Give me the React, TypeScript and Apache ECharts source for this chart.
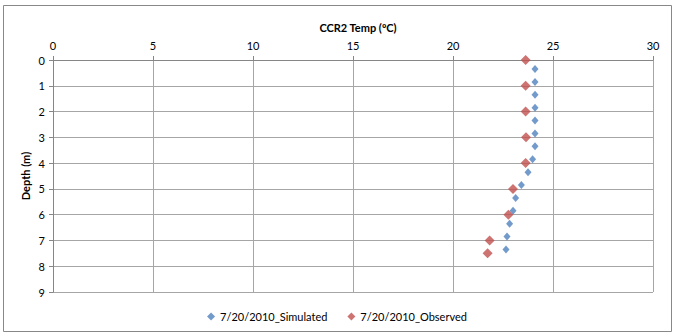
import React, { useEffect, useRef } from "react";
import * as echarts from "echarts";

const simulatedDepth = [0.35, 0.85, 1.35, 1.85, 2.35, 2.85, 3.35, 3.85, 4.35, 4.85, 5.35, 5.85, 6.35, 6.85, 7.35];
const simulatedTemp = [24.1, 24.1, 24.1, 24.1, 24.1, 24.1, 24.1, 23.98, 23.75, 23.42, 23.13, 23.0, 22.83, 22.7, 22.65];
const observedDepth = [0, 1, 2, 3, 4, 5, 6, 7, 7.5];
const observedTemp = [23.63, 23.63, 23.63, 23.65, 23.63, 23.0, 22.77, 21.83, 21.73];

const seriesNames = ["7/20/2010_Simulated", "7/20/2010_Observed"];
const titleText = "CCR2 Temp (ºC)";
const yName = "Depth (m)";

const FONT = "Lato, 'Open Sans', sans-serif";

export default function App() {
  const ref = useRef<HTMLDivElement>(null);
  useEffect(() => {
    if (!ref.current) return;
    const chart = echarts.init(ref.current, undefined, { renderer: "svg" });
    chart.setOption({
      animation: false,
      backgroundColor: "#ffffff",
      textStyle: { fontFamily: FONT },
      title: {
        text: titleText,
        left: 353,
        top: 17,
        textAlign: "center",
        textStyle: { fontSize: 11, fontWeight: "bold", color: "#000", fontFamily: FONT },
      },
      graphic: [
        {
          type: "rect",
          shape: { x: 3.5, y: 5.5, width: 668, height: 326 },
          style: { fill: "none", stroke: "#888888", lineWidth: 1 },
          silent: true,
        },
      ],
      legend: {
        bottom: 6,
        left: "center",
        itemGap: 20,
        itemWidth: 8,
        itemHeight: 8,
        textStyle: { fontSize: 11, color: "#000", fontFamily: FONT },
        data: [
          { name: seriesNames[0], icon: "diamond" },
          { name: seriesNames[1], icon: "diamond" },
        ],
      },
      grid: { left: 53, top: 60, right: 21, bottom: 41, containLabel: false },
      xAxis: {
        type: "value",
        position: "top",
        min: 0,
        max: 30,
        interval: 5,
        axisLine: { show: true, lineStyle: { color: "#868686" } },
        axisTick: { show: true, length: 4, lineStyle: { color: "#868686" } },
        axisLabel: { fontSize: 11, color: "#000", margin: 9, fontFamily: FONT },
        splitLine: { show: true, lineStyle: { color: "#a6a6a6" } },
      },
      yAxis: {
        type: "value",
        inverse: true,
        min: 0,
        max: 9,
        interval: 1,
        name: yName,
        nameLocation: "middle",
        nameGap: 22,
        nameMoveOverlap: false,
        nameRotate: 90,
        nameTextStyle: { fontSize: 11, fontWeight: "bold", color: "#000", fontFamily: FONT },
        axisLine: { show: true, lineStyle: { color: "#868686" } },
        axisTick: { show: true, length: 4, lineStyle: { color: "#868686" } },
        axisLabel: { fontSize: 11, color: "#000", margin: 8, fontFamily: FONT },
        splitLine: { show: true, lineStyle: { color: "#a6a6a6" } },
      },
      series: [
        {
          name: seriesNames[0],
          type: "scatter",
          symbol: "diamond",
          symbolSize: [7, 8],
          itemStyle: { color: "#4F81BD" },
          data: simulatedTemp.map((t, i) => [t, simulatedDepth[i]]),
          z: 2,
        },
        {
          name: seriesNames[1],
          type: "scatter",
          symbol: "diamond",
          symbolSize: [10, 10],
          itemStyle: { color: "#C0504D" },
          data: observedTemp.map((t, i) => [t, observedDepth[i]]),
          z: 3,
        },
      ],
    });
    return () => chart.dispose();
  }, []);
  return <div ref={ref} style={{ width: 674, height: 333, position: "absolute", left: 0, top: 0 }} />;
}
